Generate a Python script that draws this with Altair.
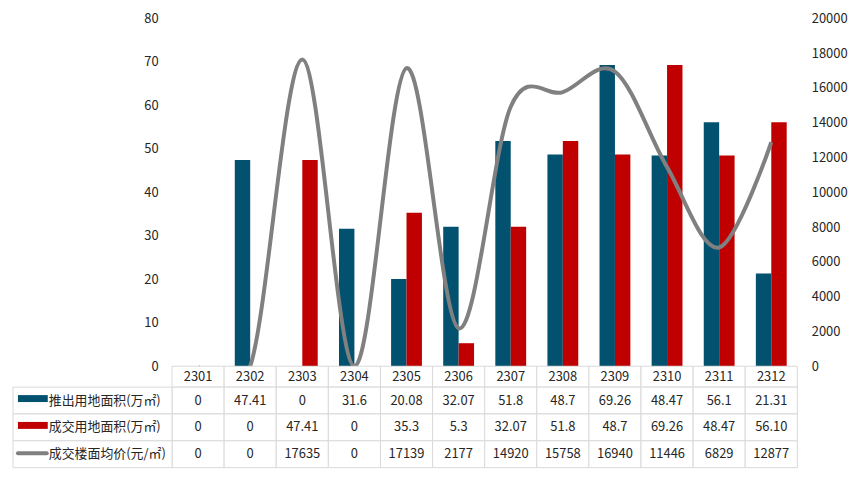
import altair as alt
import pandas as pd

FONT = "Noto Sans CJK SC"

months = ["2301", "2302", "2303", "2304", "2305", "2306",
          "2307", "2308", "2309", "2310", "2311", "2312"]
supply_labels = ["0", "47.41", "0", "31.6", "20.08", "32.07",
                 "51.8", "48.7", "69.26", "48.47", "56.1", "21.31"]
deal_labels = ["0", "0", "47.41", "0", "35.3", "5.3",
               "32.07", "51.8", "48.7", "69.26", "48.47", "56.10"]
price_labels = ["0", "0", "17635", "0", "17139", "2177",
                "14920", "15758", "16940", "11446", "6829", "12877"]
series_names = ["推出用地面积(万㎡)", "成交用地面积(万㎡)", "成交楼面均价(元/㎡)"]
colors = ["#02516F", "#C00000", "#808080"]

W, H = 629, 350
GRID = "#d9d9d9"
TXT = "#262626"

bars_df = pd.DataFrame({
    "month": months * 2,
    "series": [series_names[0]] * 12 + [series_names[1]] * 12,
    "value": [float(v) for v in supply_labels + deal_labels],
})
line_df = pd.DataFrame({"month": months, "price": [float(v) for v in price_labels]})
table_df = pd.DataFrame({
    "month": months * 3,
    "row": [series_names[0]] * 12 + [series_names[1]] * 12 + [series_names[2]] * 12,
    "text": supply_labels + deal_labels + price_labels,
})
rows_df = pd.DataFrame({"row": series_names})
header_df = pd.DataFrame({"month": months, "row": ["header"] * 12})

x_scale = alt.Scale(domain=months, paddingInner=0, paddingOuter=0)

bars = alt.Chart(bars_df).mark_bar().encode(
    x=alt.X("month:N", scale=x_scale, axis=None),
    xOffset=alt.XOffset("series:N", scale=alt.Scale(domain=series_names[:2], paddingInner=0, paddingOuter=0.69)),
    y=alt.Y("value:Q", scale=alt.Scale(domain=[0, 80], nice=False),
            axis=alt.Axis(orient="left", values=list(range(0, 81, 10)), grid=False, domain=False,
                          ticks=False, tickSize=0, labelPadding=14, title=None, format="d")),
    color=alt.Color("series:N", scale=alt.Scale(domain=series_names[:2], range=colors[:2]), legend=None),
)

line = alt.Chart(line_df).mark_line(interpolate="cardinal", strokeWidth=4, color=colors[2], clip=True).encode(
    x=alt.X("month:N", scale=x_scale, axis=None),
    y=alt.Y("price:Q", scale=alt.Scale(domain=[0, 20000], nice=False),
            axis=alt.Axis(orient="right", values=list(range(0, 20001, 2000)), grid=False, domain=False,
                          ticks=False, tickSize=0, labelPadding=14, title=None, format="d")),
)

top = alt.layer(bars, line).resolve_scale(y="independent").properties(width=W, height=H)

row_scale_h = alt.Scale(paddingInner=0, paddingOuter=0)
hbase = alt.Chart(header_df).encode(
    x=alt.X("month:N", scale=x_scale, axis=None),
    y=alt.Y("row:N", scale=row_scale_h, axis=None),
)
header = alt.layer(
    hbase.mark_rect(fill="white", stroke=GRID, strokeWidth=1),
    hbase.mark_text(fontSize=13, color=TXT, font=FONT).encode(text="month:N"),
).properties(width=W, height=21)

row_scale = alt.Scale(domain=series_names, paddingInner=0, paddingOuter=0)
cbase = alt.Chart(table_df).encode(
    x=alt.X("month:N", scale=x_scale, axis=None),
    y=alt.Y("row:N", scale=row_scale, axis=None),
)
cells = cbase.mark_rect(fill="white", stroke=GRID, strokeWidth=1)
cell_text = cbase.mark_text(fontSize=13, color=TXT, font=FONT).encode(text="text:N")

lbase = alt.Chart(rows_df).encode(y=alt.Y("row:N", scale=row_scale, axis=None))
label_rects = lbase.mark_rect(fill="white", stroke=GRID, strokeWidth=1).encode(
    x=alt.value(-160), x2=alt.value(0))
label_text = lbase.mark_text(fontSize=13, color=TXT, font=FONT, align="left").encode(
    x=alt.value(-124), text="row:N")
sw_blue = lbase.transform_filter(alt.datum.row == series_names[0]).mark_rule(
    strokeWidth=7, color=colors[0], yOffset=-2).encode(x=alt.value(-155), x2=alt.value(-125))
sw_red = lbase.transform_filter(alt.datum.row == series_names[1]).mark_rule(
    strokeWidth=7, color=colors[1], yOffset=-2).encode(x=alt.value(-155), x2=alt.value(-125))
sw_gray = lbase.transform_filter(alt.datum.row == series_names[2]).mark_rule(
    strokeWidth=4, color=colors[2], strokeCap="round", yOffset=-1).encode(x=alt.value(-155), x2=alt.value(-126))

body = alt.layer(cells, cell_text, label_rects, label_text, sw_blue, sw_red, sw_gray).properties(width=W, height=81)

chart = alt.vconcat(top, header, body, spacing=0, bounds="flush").properties(
    padding={"left": 4, "top": 3, "right": 5, "bottom": 5},
    background="white",
).configure_view(stroke=None).configure_axis(
    labelFont=FONT, labelFontSize=13, labelColor=TXT
).configure_text(font=FONT)

chart.save("out.html", embed_options={"renderer": "svg", "actions": False})
